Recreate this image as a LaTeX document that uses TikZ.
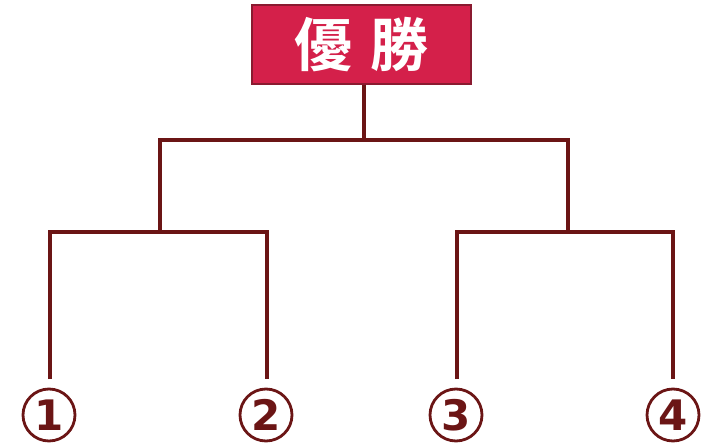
\documentclass[tikz,border=0pt]{standalone}
\usepackage{fontspec}
\newfontfamily\cjk{Noto Sans CJK JP}[BoldFont={Noto Sans CJK JP Bold}]
\setmainfont{DejaVu Sans}
\definecolor{maroon}{HTML}{6B1515}
\definecolor{crimson}{HTML}{D4204A}
\definecolor{boxedge}{HTML}{8A1A30}
\tikzset{
  wire/.style={draw=maroon, line width=4pt},
  numc/.style={circle, draw=maroon, line width=2.8pt, minimum size=52pt, inner sep=0pt, text=maroon, font=\bfseries\fontsize{42}{42}\selectfont},
}
\begin{document}
\begin{tikzpicture}[x=1pt,y=-1pt]
\useasboundingbox (0,0) rectangle (709,446);
\node[draw=boxedge, line width=1.5pt, fill=crimson, minimum width=219pt, minimum height=79pt, inner sep=0pt, text=white, font=\cjk\bfseries\fontsize{58}{58}\selectfont] (win) at (361.5,44.5) {優\hspace{18pt}勝};
\coordinate (top) at (364,140);
\coordinate (L) at (160,140);
\coordinate (R) at (568,140);
\coordinate (La) at (50,232);
\coordinate (Lb) at (267,232);
\coordinate (Ra) at (457,232);
\coordinate (Rb) at (673,232);
\node[numc] (n1) at (49,415) {1};
\node[numc] (n2) at (266,415) {2};
\node[numc] (n3) at (456,415) {3};
\node[numc] (n4) at (673,415) {4};
\draw[wire] (win.south -| top) -- (top);
\draw[wire] (L |- La) -- (L) -- (R) -- (R |- Ra);
\draw[wire] (50,379) -- (La) -- (Lb) -- (267,379);
\draw[wire] (457,379) -- (Ra) -- (Rb) -- (673,379);
\end{tikzpicture}
\end{document}
